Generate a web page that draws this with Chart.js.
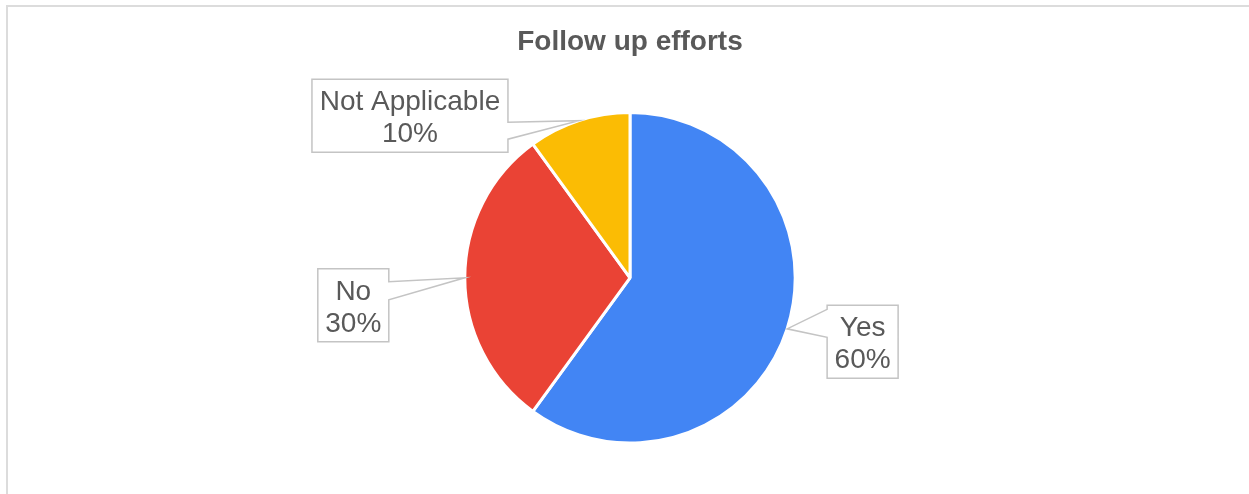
<!DOCTYPE html>
<html>
<head>
<meta charset="utf-8">
<title>Follow up efforts</title>
<script src="https://cdn.jsdelivr.net/npm/chart.js@4.4.1/dist/chart.umd.min.js"></script>
<style>
  html, body { margin: 0; padding: 0; background: #ffffff; }
  #wrap { width: 1249px; height: 494px; position: relative; }
  canvas { display: block; }
</style>
</head>
<body>
<div id="wrap"><canvas id="chart" width="1249" height="494"></canvas></div>
<script>
// Survey answers and their shares (percent)
const categories = ['Yes', 'No', 'Not Applicable'];
const shares = [60, 30, 10];
const sliceColors = ['#4285F4', '#EA4335', '#FBBC04'];

const FONT = "'Liberation Sans', Arial, Helvetica, sans-serif";
const TEXT_GRAY = '#595959';

// Light frame drawn around the chart panel
const framePlugin = {
  id: 'frame',
  beforeDraw(chart) {
    const ctx = chart.ctx;
    ctx.save();
    ctx.fillStyle = '#ffffff';
    ctx.fillRect(0, 0, chart.width, chart.height);
    ctx.strokeStyle = '#dcdcdc';
    ctx.lineWidth = 2;
    ctx.strokeRect(7, 6, chart.width + 20, chart.height + 20);
    ctx.restore();
  }
};

// Callout boxes with a pointer wedge aimed at each slice's outer edge midpoint
const calloutPlugin = {
  id: 'callouts',
  afterDatasetsDraw(chart, args, opts) {
    const ctx = chart.ctx;
    const meta = chart.getDatasetMeta(0);
    const total = chart.data.datasets[0].data.reduce((a, b) => a + b, 0);
    ctx.save();
    ctx.font = opts.font;
    meta.data.forEach((arc, i) => {
      const place = opts.placement[i];
      const mid = (arc.startAngle + arc.endAngle) / 2;
      const tipX = arc.x + Math.cos(mid) * arc.outerRadius;
      const tipY = arc.y + Math.sin(mid) * arc.outerRadius;
      const value = chart.data.datasets[0].data[i];
      const lines = [chart.data.labels[i], Math.round(value / total * 100) + '%'];
      const textW = Math.max(...lines.map(t => ctx.measureText(t).width));
      const w = Math.round(textW + opts.padX * 2);
      const h = opts.boxHeight;
      let left;
      if (place.side === 'left') left = tipX - place.gap - w;
      else left = tipX + place.gap;
      const top = tipY + place.dy;
      const right = left + w, bottom = top + h;
      const b1 = top + place.base[0], b2 = top + place.base[1];

      ctx.beginPath();
      if (place.side === 'left') {
        ctx.moveTo(left, top);
        ctx.lineTo(right, top);
        ctx.lineTo(right, b1);
        ctx.lineTo(tipX, tipY);
        ctx.lineTo(right, b2);
        ctx.lineTo(right, bottom);
        ctx.lineTo(left, bottom);
      } else {
        ctx.moveTo(right, top);
        ctx.lineTo(left, top);
        ctx.lineTo(left, b1);
        ctx.lineTo(tipX, tipY);
        ctx.lineTo(left, b2);
        ctx.lineTo(left, bottom);
        ctx.lineTo(right, bottom);
      }
      ctx.closePath();
      ctx.fillStyle = '#ffffff';
      ctx.fill();
      ctx.strokeStyle = '#c4c4c4';
      ctx.lineWidth = 1.5;
      ctx.lineJoin = 'miter';
      ctx.stroke();

      ctx.fillStyle = TEXT_GRAY;
      ctx.textAlign = 'center';
      ctx.textBaseline = 'alphabetic';
      const cx = (left + right) / 2;
      ctx.fillText(lines[0], cx, top + opts.line1);
      ctx.fillText(lines[1], cx, top + opts.line2);
    });
    ctx.restore();
  }
};

new Chart(document.getElementById('chart'), {
  type: 'pie',
  data: {
    labels: categories,
    datasets: [{
      data: shares,
      backgroundColor: sliceColors,
      borderColor: '#ffffff',
      borderWidth: 3
    }]
  },
  options: {
    responsive: false,
    animation: false,
    layout: { padding: { left: 11, right: 0, top: 0, bottom: 49.5 } },
    plugins: {
      legend: { display: false },
      tooltip: { enabled: false },
      title: {
        display: true,
        text: 'Follow up efforts',
        color: TEXT_GRAY,
        font: { family: FONT, size: 28, weight: 'bold', lineHeight: 1.2 },
        padding: { top: 25, bottom: 52.5 }
      },
      callouts: {
        font: '28px ' + FONT,
        padX: 7.5,
        boxHeight: 73,
        line1: 31,
        line2: 63,
        placement: [
          { side: 'right', gap: 40, dy: -23.5, base: [4, 32] },
          { side: 'left', gap: 76, dy: -9, base: [13, 31] },
          { side: 'left', gap: 71, dy: -41.5, base: [43, 60] }
        ]
      }
    }
  },
  plugins: [framePlugin, calloutPlugin]
});
</script>
</body>
</html>
